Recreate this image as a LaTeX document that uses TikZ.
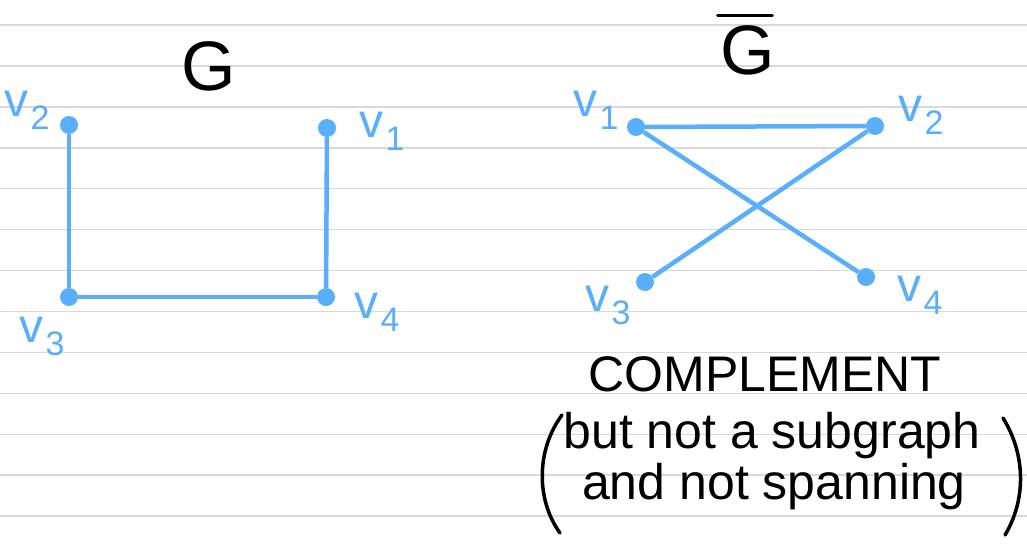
\documentclass[tikz,border=0pt]{standalone}
\usepackage{fontspec}
\setmainfont{Liberation Sans}
\usetikzlibrary{positioning}
\definecolor{inkblue}{HTML}{5AAFFC}
\definecolor{ruling}{HTML}{D9D9D9}
\tikzset{
  dot/.style={circle, fill=inkblue, inner sep=0pt, minimum size=18pt},
  edge/.style={inkblue, line width=4.5pt},
  vname/.style={inkblue, font=\fontsize{48}{48}\selectfont, inner sep=0pt},
  title/.style={font=\fontsize{70}{70}\selectfont, inner sep=0pt},
  note/.style={font=\fontsize{50}{56}\selectfont, inner sep=0pt, anchor=base},
  paren/.style={line width=3.5pt, line cap=round},
}
\newcommand{\vsub}[1]{v\kern2pt\raisebox{-13pt}{\fontsize{34}{34}\selectfont #1}}

\begin{document}
\begin{tikzpicture}[x=1pt, y=-1pt]
  \useasboundingbox (0,0) rectangle (1027,543);
  \fill[white] (0,0) rectangle (1027,543);
  % ruled paper
  \foreach \k in {0,...,12}
    \draw[ruling, line width=1.5pt] (0,25+40.93*\k) -- (1027,25+40.93*\k);

  % graph G
  \node[title] (gname) at (209,66) {G};
  \node[dot] (g1) at (327,128) {};
  \node[dot] (g2) at (69,125) {};
  \node[dot] (g3) at (69,297) {};
  \node[dot] (g4) at (326,297) {};
  \draw[edge] (g2) -- (g3);
  \draw[edge] (g3) -- (g4);
  \draw[edge] (g1) -- (g4);
  \node[vname] (g1l) at (382,131) {\vsub{1}};
  \node[vname] (g2l) at (27,110) {\vsub{2}};
  \node[vname] (g3l) at (42,336) {\vsub{3}};
  \node[vname] (g4l) at (377,312) {\vsub{4}};

  % complement of G
  \node[title] (cname) at (748,50) {G};
  \draw[line width=3pt, line cap=round] ([xshift=-3pt, yshift=10pt]cname.north west) -- ([xshift=-3pt, yshift=10pt]cname.north east);
  \node[dot] (c1) at (636,127) {};
  \node[dot] (c2) at (875,126) {};
  \node[dot] (c3) at (645,282) {};
  \node[dot] (c4) at (866,277) {};
  \draw[edge] (c1) -- (c2);
  \draw[edge] (c1) -- (c4);
  \draw[edge] (c2) -- (c3);
  \node[vname] (c1l) at (596,110) {\vsub{1}};
  \node[vname] (c2l) at (921,115) {\vsub{2}};
  \node[vname] (c3l) at (608,305) {\vsub{3}};
  \node[vname] (c4l) at (920,295) {\vsub{4}};

  % remark
  \node[note] (rem) at (765,391) {COMPLEMENT};
  \node[note] (rem2) at (772,448) {but not a subgraph};
  \node[note] (rem3) at (774,499) {and not spanning};
  \draw[paren] (562,415) .. controls (536,450) and (536,500) .. (560,533);
  \draw[paren] (1003,418) .. controls (1026,455) and (1026,500) .. (1005,535);
\end{tikzpicture}
\end{document}
